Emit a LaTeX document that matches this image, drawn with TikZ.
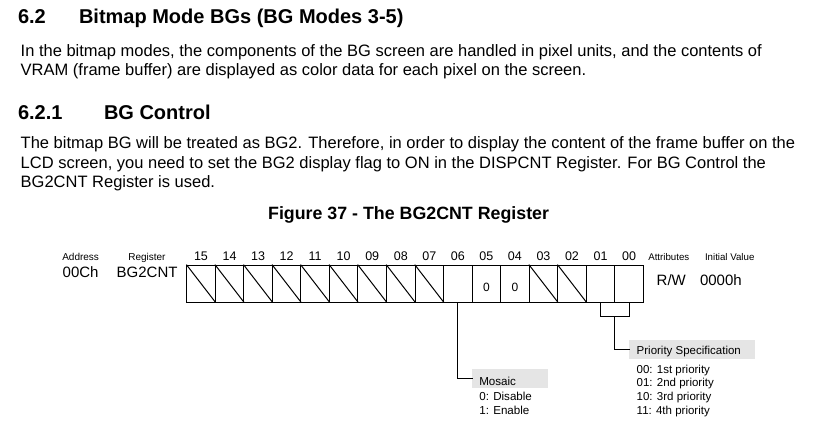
\documentclass[tikz,border=0pt]{standalone}
\usepackage{fontspec}
\setmainfont{Liberation Sans}
\usetikzlibrary{positioning}

\tikzset{
  txt/.style={anchor=base west,inner sep=0pt,outer sep=0pt,font=\fontsize{#1}{#1}\selectfont},
  txt/.default=16.5,
  bold/.style={anchor=base west,inner sep=0pt,outer sep=0pt,font=\fontsize{#1}{#1}\selectfont\bfseries},
  bitcell/.style={draw,line width=1pt,minimum width=28.54pt,minimum height=37pt,
    inner sep=0pt,outer sep=0pt,anchor=north west},
  bitno/.style={anchor=base,inner sep=0pt,font=\fontsize{12.5}{12.5}\selectfont},
  notebox/.style={fill=black!10,inner sep=0pt,outer sep=0pt,anchor=north west},
  wire/.style={line width=1pt}
}

\begin{document}
\begin{tikzpicture}[x=1pt,y=-1pt,line cap=rect,line join=miter]
  \useasboundingbox (0,0) rectangle (819,422);

  % section text
  \node[bold=20] (sec) at (18,24) {6.2};
  \node[bold=20] (sectitle) at (79,24) {Bitmap Mode BGs (BG Modes 3-5)};
  \node[txt] (parA1) at (20.7,57) {In the bitmap modes, the components of the BG screen are handled in pixel units, and the contents of};
  \node[txt] (parA2) at (20.7,76) {VRAM (frame buffer) are displayed as color data for each pixel on the screen.};
  \node[bold=20] (subsec) at (18,120) {6.2.1};
  \node[bold=20] (subtitle) at (104,120) {BG Control};
  \node[txt] (parB1) at (20.7,148.3) {The bitmap BG will be treated as BG2. Therefore, in order to display the content of the frame buffer on the};
  \node[txt] (parB2) at (20.7,168.3) {LCD screen, you need to set the BG2 display flag to ON in the DISPCNT Register. For BG Control the};
  \node[txt] (parB3) at (20.7,188) {BG2CNT Register is used.};
  \node[bold=17.8,anchor=base] (caption) at (408.6,219) {Figure 37 - The BG2CNT Register};

  % register header
  \node[txt=10] (addrhead) at (62.3,260) {Address};
  \node[txt=10] (reghead) at (128.3,260) {Register};
  \node[txt=15] (addr) at (62.7,277.7) {00Ch};
  \node[txt=15] (reg) at (116.7,277.7) {BG2CNT};
  \node[txt=9.7] (attrhead) at (648.3,260) {Attributes};
  \node[txt=9.7] (inithead) at (705,260) {Initial Value};
  \node[txt=15] (attr) at (656.7,285.7) {R/W};
  \node[txt=15] (init) at (700,285.7) {0000h};

  % bit cells
  \foreach \b [count=\i from 0] in {15,14,13,12,11,10,09,08,07,06,05,04,03,02,01,00} {
    \node[bitcell] (b\b) at (186.7+\i*28.54,265) {};
    \node[bitno] (n\b) at (186.7+\i*28.54+14.27,260.7) {\b};
  }
  \foreach \b in {15,14,13,12,11,10,09,08,07,03,02}
    \draw[line width=1pt] (b\b.north west) -- (b\b.south east);
  \foreach \b in {05,04}
    \node[bitno,font=\fontsize{12}{12}\selectfont] (z\b) at ([yshift=-26pt]b\b.north) {0};

  % mosaic
  \node[notebox,minimum width=75.4pt,minimum height=18.7pt] (mosaicbox) at (472.3,369) {};
  \node[txt=11.6] (mosaic) at (479.3,385.7) {Mosaic};
  \node[txt=11.6] (mosaic0) at (479.3,400.7) {0: Disable};
  \node[txt=11.6] (mosaic1) at (479.3,414.3) {1: Enable};
  \draw[wire] (b06.south) |- (mosaicbox.west);

  % priority
  \node[notebox,minimum width=125.7pt,minimum height=19pt] (priobox) at (629.3,340) {};
  \node[txt=11.5] (prio) at (636.7,354) {Priority Specification};
  \node[txt=11.5] (prio0) at (636.7,373.3) {00: 1st priority};
  \node[txt=11.5] (prio1) at (636.7,386.7) {01: 2nd priority};
  \node[txt=11.5] (prio2) at (636.7,400.7) {10: 3rd priority};
  \node[txt=11.5] (prio3) at (636.7,414.3) {11: 4th priority};
  \draw[wire] (b01.south) -- ++(0,14.7) coordinate (brkl) -| (b00.south);
  \coordinate (brk) at ([xshift=14.27pt]brkl);
  \draw[wire] (brk) |- (priobox.west);
\end{tikzpicture}
\end{document}
